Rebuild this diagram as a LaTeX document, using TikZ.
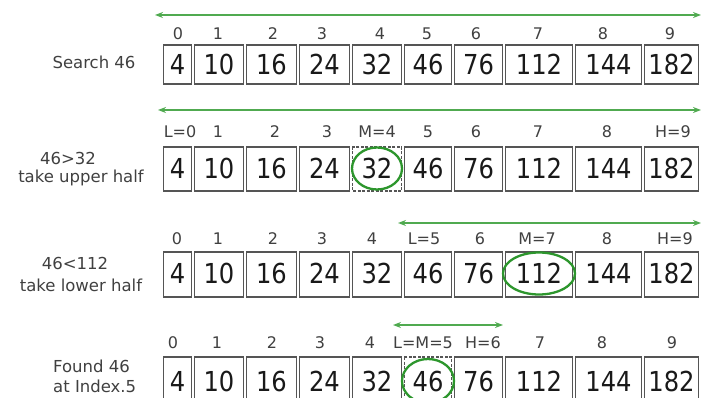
\documentclass[tikz,border=0pt]{standalone}
\usepackage{fontspec}
\setmainfont{DejaVu Sans}
\usepackage{graphicx}
\usetikzlibrary{arrows.meta}
\definecolor{gline}{RGB}{80,170,80}
\definecolor{gcirc}{RGB}{45,150,45}
\definecolor{cellc}{RGB}{85,85,85}
\newcommand\nmb[1]{\scalebox{0.88}[1]{#1}}
\tikzset{
  cellbox/.style={draw=cellc, line width=1.1pt},
  dcell/.style={cellbox, dash pattern=on 3pt off 1.5pt},
  numtxt/.style={font=\fontsize{27.5}{28}\selectfont, text=black!90, inner sep=0pt},
  idx/.style={font=\fontsize{16}{16}\selectfont, text=black!75, inner sep=0pt},
  lbl/.style={font=\fontsize{16.5}{18}\selectfont, text=black!75, inner sep=0pt},
  arr/.style={draw=gline, line width=1.4pt, {Stealth[length=8pt,width=6pt]}-{Stealth[length=8pt,width=6pt]}},
  ring/.style={draw=gcirc, line width=2.3pt}
}
\begin{document}
\begin{tikzpicture}[x=1pt,y=-1pt]
\useasboundingbox (0,0) rectangle (701,398);
% ---------- row 1 ----------
\foreach \a/\b/\v [count=\i from 0] in {162/193/4,193/245/10,245/298/16,298/351/24,351/403/32,403/453/46,453/504/76,504/574/112,574/643/144,643/700/182}{
  \draw[cellbox] (\a+1.2,45) rectangle (\b-1.2,84);
  \node[numtxt] (ra\i) at ({(\a+\b)/2},64.5) {\nmb{\v}};
}
\node[lbl] (la) at (94,62) {Search 46};
\foreach \x/\t [count=\i from 0] in {178/0,218/1,273/2,322/3,380/4,427/5,476/6,538/7,603/8,670/9}{
  \node[idx] (ia\i) at (\x,34) {\t};
}
\coordinate (a1l) at (155,15); \coordinate (a1r) at (701,15);
\draw[arr] (a1l) -- (a1r);
% ---------- row 2 ----------
\foreach \a/\b/\v [count=\i from 0] in {162/193/4,193/245/10,245/298/16,298/351/24,351/403/32,403/453/46,453/504/76,504/574/112,574/643/144,643/700/182}{
  \ifnum\i=4
    \draw[dcell] (\a+1.2,147) rectangle (\b-1.2,191);
  \else
    \draw[cellbox] (\a+1.2,147) rectangle (\b-1.2,191);
  \fi
  \node[numtxt] (rb\i) at ({(\a+\b)/2},168.5) {\nmb{\v}};
}
\node[lbl] (lb1) at (68,158) {46>32};
\node[lbl] (lb2) at (81,178) {take upper half};
\foreach \x/\t [count=\i from 0] in {180/L=0,218/1,275/2,327/3,377/M=4,428/5,476/6,538/7,607/8,673/H=9}{
  \node[idx] (ib\i) at (\x,132) {\t};
}
\coordinate (a2l) at (158,110); \coordinate (a2r) at (701,110);
\draw[arr] (a2l) -- (a2r);
\draw[ring] (rb4) ellipse [x radius=25pt, y radius=21pt];
% ---------- row 3 ----------
\foreach \a/\b/\v [count=\i from 0] in {162/193/4,193/245/10,245/298/16,298/351/24,351/403/32,403/453/46,453/504/76,504/574/112,574/643/144,643/700/182}{
  \draw[cellbox] (\a+1.2,252) rectangle (\b-1.2,297);
  \node[numtxt] (rc\i) at ({(\a+\b)/2},273.5) {\nmb{\v}};
}
\node[lbl] (lc1) at (75,263) {46<112};
\node[lbl] (lc2) at (81,285) {take lower half};
\foreach \x/\t [count=\i from 0] in {177/0,218/1,273/2,322/3,372/4,424/L=5,480/6,537/M=7,607/8,675/H=9}{
  \node[idx] (ic\i) at (\x,239) {\t};
}
\coordinate (a3l) at (398,223); \coordinate (a3r) at (701,223);
\draw[arr] (a3l) -- (a3r);
\draw[ring] (rc7) ellipse [x radius=36pt, y radius=21pt];
% ---------- row 4 ----------
\foreach \a/\b/\v [count=\i from 0] in {162/193/4,193/245/10,245/298/16,298/351/24,351/403/32,403/453/46,453/504/76,504/574/112,574/643/144,643/700/182}{
  \ifnum\i=5
    \draw[dcell] (\a+1.2,357) rectangle (\b-1.2,401);
  \else
    \draw[cellbox] (\a+1.2,357) rectangle (\b-1.2,401);
  \fi
  \node[numtxt] (rd\i) at ({(\a+\b)/2},381) {\nmb{\v}};
}
\node[lbl, anchor=west] (ld1) at (53,366) {Found 46};
\node[lbl, anchor=west] (ld2) at (53,386) {at Index.5};
\foreach \x/\t [count=\i from 0] in {173/0,217/1,272/2,320/3,370/4,423/L=M=5,483/H=6,540/7,602/8,672/9}{
  \node[idx] (id\i) at (\x,343) {\t};
}
\coordinate (a4l) at (393,325); \coordinate (a4r) at (503,325);
\draw[arr] (a4l) -- (a4r);
\draw[ring] (rd5) ellipse [x radius=26pt, y radius=22pt];
\end{tikzpicture}
\end{document}
